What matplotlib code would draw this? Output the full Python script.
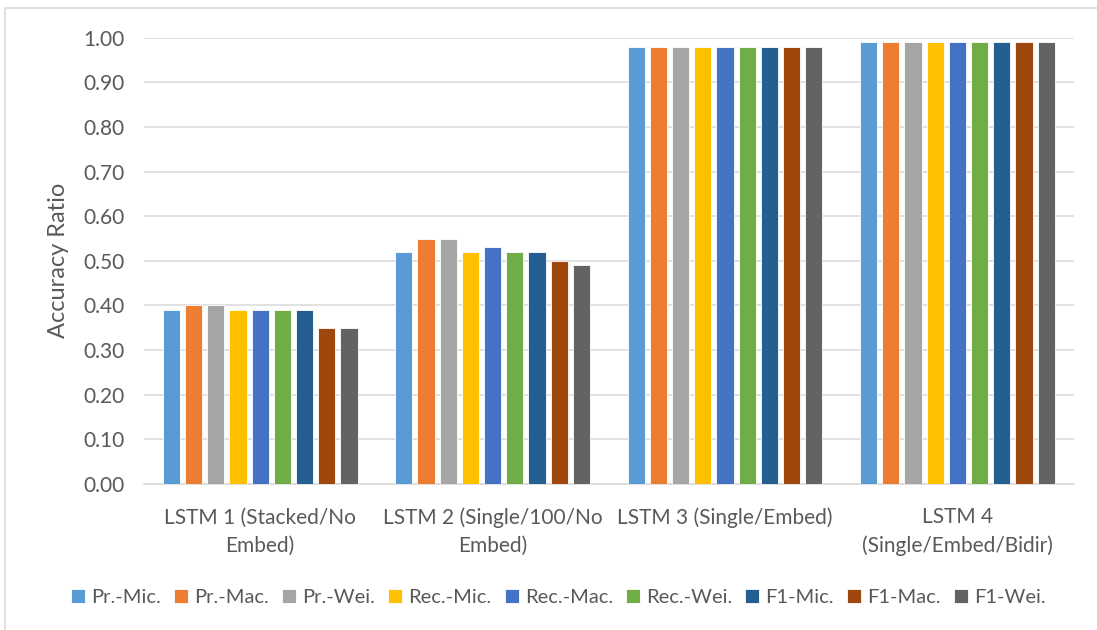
import matplotlib.pyplot as plt
import numpy as np

plt.rcParams['font.family'] = ['Lato', 'DejaVu Sans']

# Model configurations and scores per metric
models = ['LSTM 1 (Stacked/No\nEmbed)', 'LSTM 2 (Single/100/No\nEmbed)',
          'LSTM 3 (Single/Embed)', 'LSTM 4\n(Single/Embed/Bidir)']
metrics = ['Pr.-Mic.', 'Pr.-Mac.', 'Pr.-Wei.', 'Rec.-Mic.', 'Rec.-Mac.',
           'Rec.-Wei.', 'F1-Mic.', 'F1-Mac.', 'F1-Wei.']
lstm1 = [0.39, 0.40, 0.40, 0.39, 0.39, 0.39, 0.39, 0.35, 0.35]
lstm2 = [0.52, 0.55, 0.55, 0.52, 0.53, 0.52, 0.52, 0.50, 0.49]
lstm3 = [0.98, 0.98, 0.98, 0.98, 0.98, 0.98, 0.98, 0.98, 0.98]
lstm4 = [0.99, 0.99, 0.99, 0.99, 0.99, 0.99, 0.99, 0.99, 0.99]
colors = ['#5B9BD5', '#ED7D31', '#A5A5A5', '#FFC000', '#4472C4',
          '#70AD47', '#255E91', '#9E480E', '#636363']

scores = np.array([lstm1, lstm2, lstm3, lstm4])

fig = plt.figure(figsize=(10.97, 6.3), dpi=100)
ax = fig.add_axes([0.1313, 0.232, 0.8473, 0.708])

x = np.arange(len(models))
pitch = 0.0955
width = 0.074
for i, (name, col) in enumerate(zip(metrics, colors)):
    offs = (i - 4) * pitch
    ax.bar(x + offs, scores[:, i], width=width, color=col, label=name,
           edgecolor='white', linewidth=0.6, zorder=3)

ax.set_xlim(-0.5, 3.5)
ax.set_ylim(0, 1.0)
ax.set_yticks(np.arange(0, 1.01, 0.1))
ax.set_yticklabels([f'{v:.2f}' for v in np.arange(0, 1.01, 0.1)])
ax.yaxis.grid(True, color='#D9D9D9', linewidth=1.1, zorder=0)
ax.set_xticks(x)
ax.set_xticklabels(models, linespacing=1.5)
ax.tick_params(axis='both', length=0, labelsize=15, colors='#595959')
ax.tick_params(axis='x', pad=17)
ax.tick_params(axis='y', pad=14)
for s in ['top', 'right', 'left']:
    ax.spines[s].set_visible(False)
ax.spines['bottom'].set_color('#D9D9D9')
ax.spines['bottom'].set_linewidth(1.1)

ax.set_ylabel('Accuracy Ratio', fontsize=17, color='#595959', labelpad=10)

ax.legend(loc='center', bbox_to_anchor=(0.509, 0.051), bbox_transform=fig.transFigure,
          ncol=9, frameon=False, fontsize=14.5, labelcolor='#595959',
          handlelength=0.7, handleheight=0.7, handletextpad=0.3, columnspacing=0.65)

# light chart frame, left and top edges
fig.add_artist(plt.Line2D([5 / 1097, 5 / 1097, 1.0], [0.0, 1 - 8 / 630, 1 - 8 / 630],
                          transform=fig.transFigure, color='#D9D9D9', linewidth=1.2))

fig.savefig('out.png', dpi=100)
